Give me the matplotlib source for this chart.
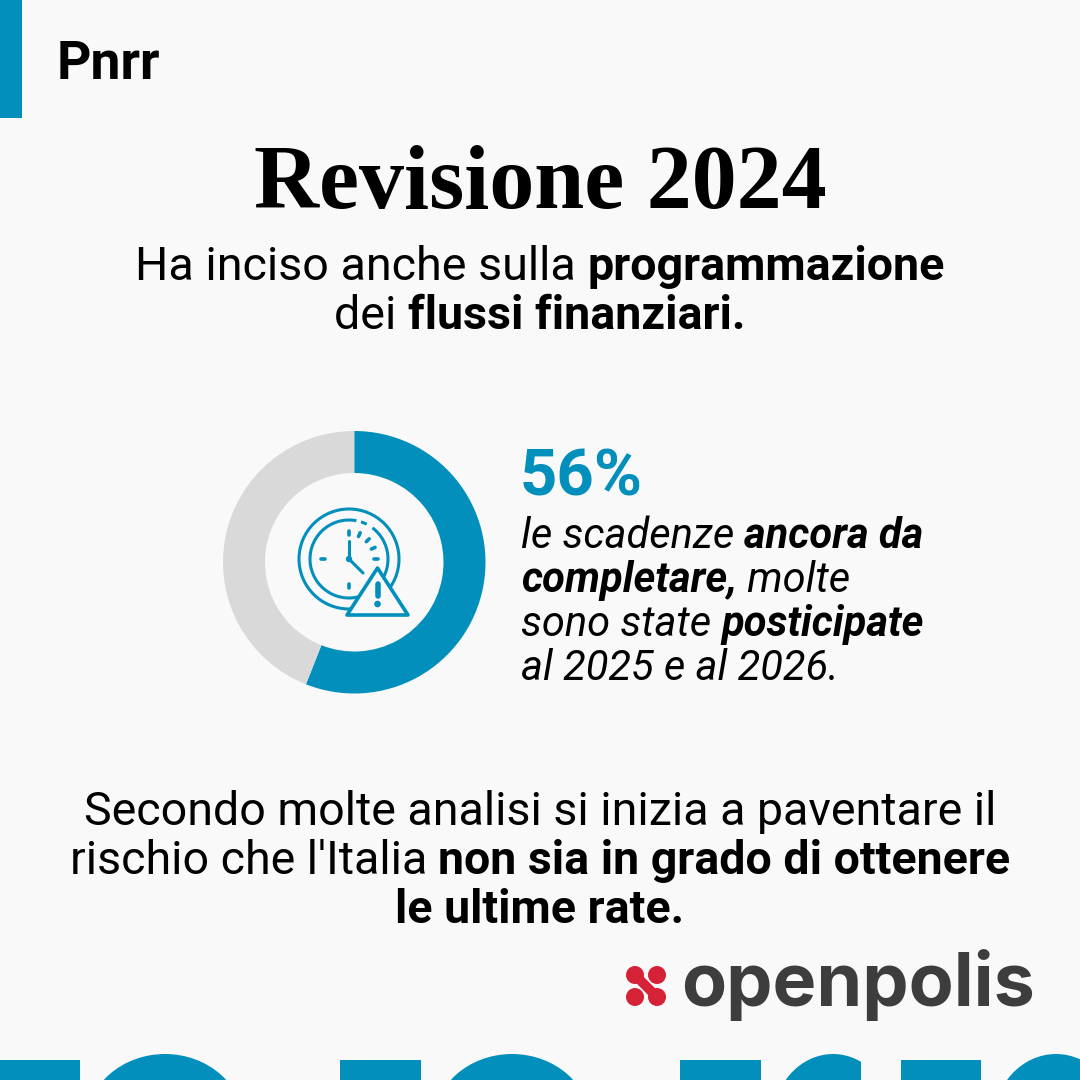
import numpy as np
import matplotlib
matplotlib.use('Agg')
import matplotlib.pyplot as plt
from matplotlib.patches import Rectangle, Ellipse, Circle, Arc, Polygon

BLUE = '#028fbc'
GREY = '#d9d9d9'
BG = '#f9f9f9'
RED = '#d62236'
DARK = '#3d3d3d'

# share of deadlines still to be completed
donut_labels = ['ancora da completare', 'altre']
donut_values = [56, 44]

title = 'Revisione 2024'
tag = 'Pnrr'
big_number = '56%'
logo_name = 'openpolis'

# lines as (text, bold) runs
subtitle = [
    [('Ha inciso anche sulla ', False), ('programmazione', True)],
    [('dei ', False), ('flussi finanziari.', True)],
]
side_text = [
    [('le scadenze ', False), ('ancora da', True)],
    [('completare,', True), (' molte', False)],
    [('sono state ', False), ('posticipate', True)],
    [('al 2025 e al 2026.', False)],
]
bottom_text = [
    [('Secondo molte analisi si inizia a paventare il', False)],
    [("rischio che l'Italia ", False), ('non sia in grado di ottenere', True)],
    [('le ultime rate.', True)],
]

fig = plt.figure(figsize=(10.8, 10.8), dpi=100, facecolor=BG)
ax = fig.add_axes([0, 0, 1, 1])
ax.set_xlim(0, 1080)
ax.set_ylim(1080, 0)
ax.axis('off')


def draw_runs(runs, y, size, x=None, center=None, italic=False):
    # measure first so mixed weights can be centred as one line
    rend = fig.canvas.get_renderer()
    widths = []
    for s, bold in runs:
        t = ax.text(0, 0, s.replace(' ', '\u00a0'), fontsize=size, family='Roboto',
                    fontweight='bold' if bold else 'normal',
                    fontstyle='italic' if italic else 'normal')
        widths.append(t.get_window_extent(rend).width)
        t.remove()
    if center is not None:
        x = center - sum(widths) / 2
    for (s, bold), w in zip(runs, widths):
        ax.text(x, y, s.replace(' ', '\u00a0'), fontsize=size, family='Roboto', color='black',
                fontweight='bold' if bold else 'normal',
                fontstyle='italic' if italic else 'normal', va='baseline', ha='left')
        x += w


# header
ax.add_patch(Rectangle((0, 0), 22, 118, color=BLUE, lw=0))
ax.text(57, 79, tag, fontsize=38.5, family='Roboto', fontweight='bold', color='black', va='baseline')
ax.text(540, 208, title, fontsize=64.8, family='Liberation Serif', fontweight='bold', color='black',
        ha='center', va='baseline')

for i, line in enumerate(subtitle):
    draw_runs(line, 280 + i * 49, 33.6, center=540)

# donut
ax_d = fig.add_axes([223 / 1080, 1 - 693.5 / 1080, 262.5 / 1080, 262.5 / 1080])
ax_d.pie(donut_values, colors=[BLUE, GREY], startangle=90, counterclock=False, radius=1,
         wedgeprops={'width': 0.32, 'linewidth': 0})
ax_d.set_xlim(-1, 1)
ax_d.set_ylim(-1, 1)

# clock icon, y axis is flipped so arc angles run clockwise on screen
cx, cy = 349, 559
lw = 2.2
ax.add_patch(Circle((cx, cy), 50, facecolor='none', edgecolor=BLUE, lw=lw))
ax.add_patch(Arc((cx, cy), 78, 78, theta1=60, theta2=281, color=BLUE, lw=lw))
ax.add_patch(Arc((cx, cy), 78, 78, theta1=288, theta2=297, color=BLUE, lw=lw))
ax.add_patch(Arc((cx, cy), 78, 78, theta1=307, theta2=400, color=BLUE, lw=lw))
ax.plot([cx, cx], [cy, cy - 18], color=BLUE, lw=lw, solid_capstyle='round')
ax.plot([cx, cx + 14], [cy, cy + 14], color=BLUE, lw=lw, solid_capstyle='round')
ax.add_patch(Circle((cx, cy), 3.2, color=BLUE, lw=0))
for a in [0, 24, 45, 67, 90, 180, 270]:
    c, s = np.cos(np.radians(a)), -np.sin(np.radians(a))
    ax.plot([cx + 24.5 * c, cx + 28.5 * c], [cy + 24.5 * s, cy + 28.5 * s], color=BLUE, lw=2.6,
            solid_capstyle='round')
# warning triangle
ax.add_patch(Polygon([[377.5, 568], [408, 615], [347, 615]], closed=True, facecolor=BG, edgecolor=BLUE,
                     lw=lw + 0.4, joinstyle='round', zorder=3))
ax.plot([377.5, 377.5], [584, 596], color=BLUE, lw=4, solid_capstyle='round', zorder=4)
ax.add_patch(Circle((377.5, 604), 3.3, color=BLUE, lw=0, zorder=4))

# side text
ax.text(520, 495, big_number, fontsize=47, family='Roboto', fontweight='bold', color=BLUE, va='baseline')
for i, line in enumerate(side_text):
    draw_runs(line, 548 + i * 44, 30, x=521, italic=True)

for i, line in enumerate(bottom_text):
    draw_runs(line, 825 + i * 49, 33.5, center=540)

# logo
for px, py in [(635, 975), (657, 997), (657, 975), (635, 997)]:
    ax.add_patch(Circle((px, py), 9, color=RED, lw=0))
ax.plot([635, 657], [975, 997], color=RED, lw=7)
ax.text(681, 1006, logo_name, fontsize=53, family='Inter', fontweight='bold', color=DARK, va='baseline')

# big cropped letters along the bottom edge
for x0, w in [(0, 80), (340, 81), (680, 81), (901, 80)]:
    ax.add_patch(Rectangle((x0, 1060), w, 30, color=BLUE, lw=0))
for xc, w in [(165, 150), (512, 150), (833, 116), (1056, 120)]:
    ax.add_patch(Ellipse((xc, 1054 + 70), w * 1.05, 140, color=BLUE, lw=0))
ax.add_patch(Rectangle((861, 1050), 40, 30, color=BG, lw=0))

fig.savefig('out.png', dpi=100, facecolor=BG)
